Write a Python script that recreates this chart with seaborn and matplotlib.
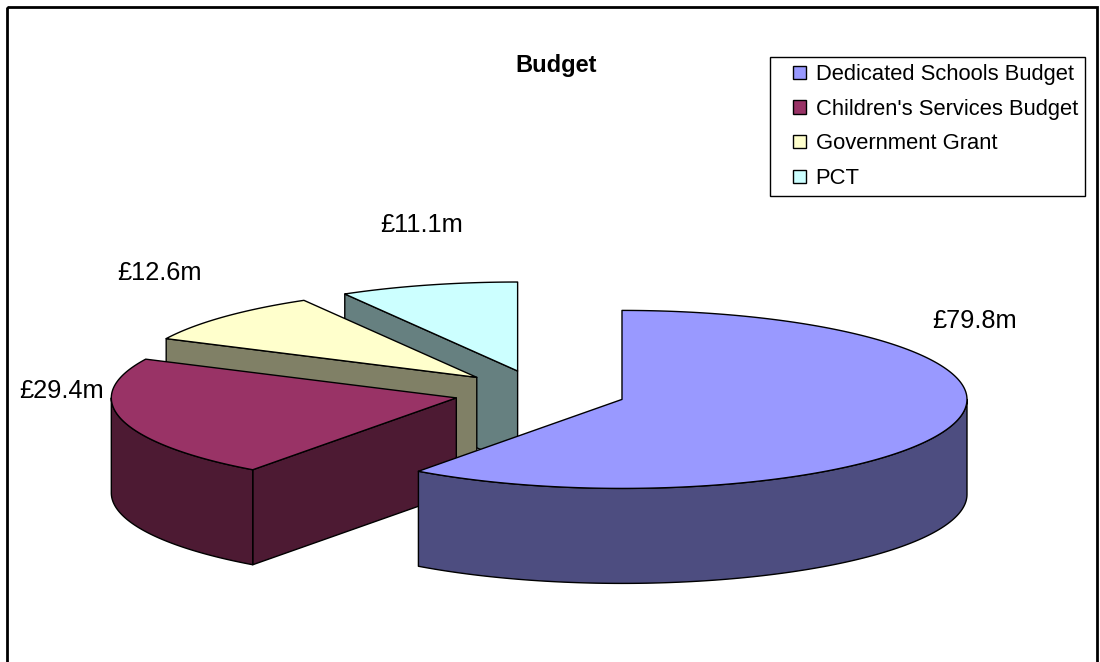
import numpy as np
import matplotlib
matplotlib.use("Agg")
import matplotlib.pyplot as plt
from matplotlib.patches import Polygon, Rectangle, Patch
from matplotlib.legend_handler import HandlerPatch
import seaborn as sns

# Budget breakdown (£ millions)
categories = ["Dedicated Schools Budget", "Children's Services Budget", "Government Grant", "PCT"]
values = [79.8, 29.4, 12.6, 11.1]
value_labels = ["£79.8m", "£29.4m", "£12.6m", "£11.1m"]
top_colors = ["#9999FF", "#993366", "#FFFFCC", "#CCFFFF"]

sns.set_theme(style="white")
plt.rcParams["font.family"] = ["Liberation Sans", "DejaVu Sans"]
plt.rcParams["text.color"] = "black"

W, H, DPI = 1100, 662, 100
fig = plt.figure(figsize=(W / DPI, H / DPI), dpi=DPI)
ax = fig.add_axes([0, 0, 1, 1])
ax.set_xlim(0, W)
ax.set_ylim(H, 0)
ax.axis("off")

# 3-D pie geometry (pixel space)
cx, cy = 540, 392.5        # centre of the unexploded pie
rx, ry = 345, 89           # ellipse radii of the top face
depth = 95                 # thickness of the pie
explode = 0.25             # radial offset of each slice (fraction of radius)
edge_kw = dict(edgecolor="black", linewidth=1.0, joinstyle="round")


def shade(hex_color, f=0.5):
    r, g, b = matplotlib.colors.to_rgb(hex_color)
    return (r * f, g * f, b * f)


def pt(x0, y0, t, dz=0.0):
    return (x0 + rx * np.cos(np.radians(t)), y0 - ry * np.sin(np.radians(t)) + dz)


total = sum(values)
slices = []
start = 90.0
for name, v, col in zip(categories, values, top_colors):
    sweep = 360.0 * v / total
    t1, t2 = start, start - sweep
    mid = np.radians((t1 + t2) / 2)
    ox = cx + explode * rx * np.cos(mid)
    oy = cy - explode * ry * np.sin(mid)
    slices.append(dict(t1=t1, t2=t2, ox=ox, oy=oy, col=col))
    start = t2

# painter's order: back slices first
for s in sorted(slices, key=lambda d: d["oy"]):
    t1, t2, ox, oy, col = s["t1"], s["t2"], s["ox"], s["oy"], s["col"]
    side = shade(col)
    # radial walls facing the viewer
    for t, visible in ((t1, np.cos(np.radians(t1)) < -1e-6),
                       (t2, np.cos(np.radians(t2)) > 1e-6)):
        if visible:
            e = pt(ox, oy, t)
            quad = [(ox, oy), e, (e[0], e[1] + depth), (ox, oy + depth)]
            ax.add_patch(Polygon(quad, closed=True, facecolor=side, **edge_kw))
    # curved outer wall on the front half
    for k in range(-2, 3):
        lo, hi = max(t2, -180 + 360 * k), min(t1, 360 * k)
        if lo < hi:
            ts = np.linspace(lo, hi, 120)
            top = [pt(ox, oy, t) for t in ts]
            bot = [pt(ox, oy, t, depth) for t in ts[::-1]]
            ax.add_patch(Polygon(top + bot, closed=True, facecolor=side, **edge_kw))
    # top face
    ts = np.linspace(t2, t1, 240)
    face = [(ox, oy)] + [pt(ox, oy, t) for t in ts]
    ax.add_patch(Polygon(face, closed=True, facecolor=col, **edge_kw))

# value labels
label_x = [975, 62, 159, 422]
label_y = [328, 398, 280, 232]
for txt, lx, ly in zip(value_labels, label_x, label_y):
    ax.text(lx, ly, txt, ha="center", va="baseline", fontsize=18.3, color="black")

ax.text(556, 72, "Budget", ha="center", va="baseline", fontsize=17,
        fontweight="bold", color="black")

# outer chart border
ax.add_patch(Rectangle((7, 7), 1090, 700, facecolor="none", edgecolor="black",
                       linewidth=2, clip_on=False))


# legend key: small square placed at the right end of the handle box
def square_key(legend, orig_handle, xdescent, ydescent, width, height, fontsize):
    side = height
    return Rectangle((width - side - xdescent, -ydescent), side, side)


handles = [Patch(facecolor=c, edgecolor="black", linewidth=1) for c in top_colors]
leg = fig.legend(handles, categories, loc="upper left",
                 bbox_to_anchor=(770 / W, 1 - 57 / H), fontsize=15.8,
                 frameon=True, fancybox=False, edgecolor="black", framealpha=1,
                 handlelength=1.3, handleheight=0.55, handletextpad=0.45,
                 labelspacing=0.62, borderpad=0.33, borderaxespad=0,
                 handler_map={Patch: HandlerPatch(patch_func=square_key)})
leg.get_frame().set_linewidth(1.0)
for t in leg.get_texts():
    t.set_color("black")

fig.savefig("out.png", dpi=DPI, facecolor="white")
